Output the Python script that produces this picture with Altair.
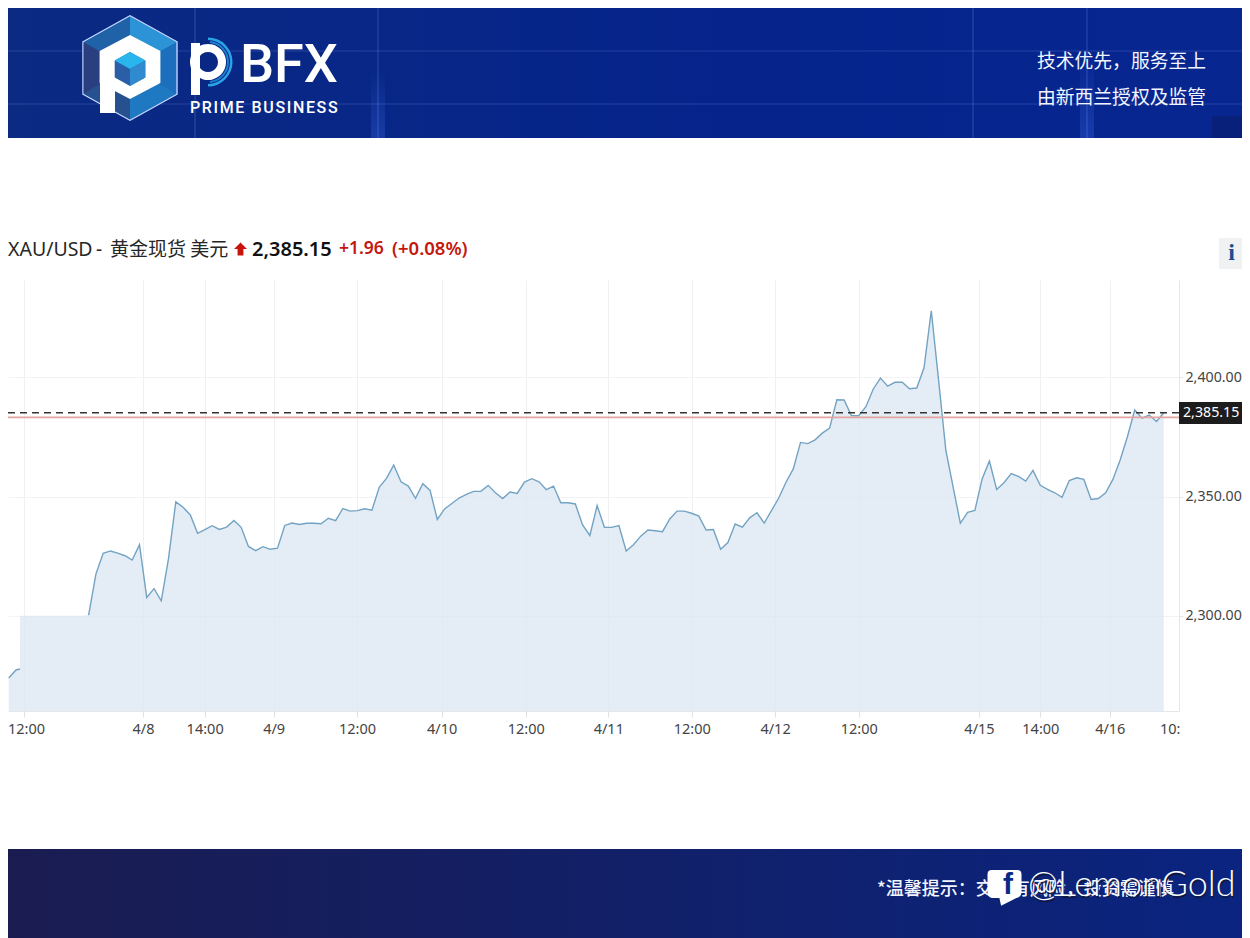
import altair as alt
import pandas as pd

# price per bar (None = line hidden behind the white patch)
price = [
    2273.9, 2277.3, None, None, None, None, None, None, None, None, None,
    2300.3, 2317.5, 2326.2, 2327.2, 2326.3, 2325.2, 2323.4, 2329.8, 2307.7, 2311.4,
    2306.3, 2324.1, 2347.8, 2345.5, 2342.3, 2334.6, 2336.1, 2337.8, 2336.2, 2337.2,
    2340.0, 2337.1, 2329.1, 2327.3, 2329.0, 2327.9, 2328.4, 2337.9, 2338.9, 2338.3,
    2338.8, 2338.8, 2338.6, 2340.9, 2339.9, 2345.0, 2343.9, 2344.1, 2344.9, 2344.3,
    2353.9, 2357.6, 2363.2, 2356.2, 2354.4, 2349.3, 2355.4, 2352.6, 2340.4, 2344.8,
    2347.1, 2349.4, 2350.9, 2352.2, 2352.2, 2354.7, 2351.6, 2349.2, 2351.9, 2351.3,
    2356.1, 2357.5, 2356.2, 2352.9, 2354.4, 2347.4, 2347.4, 2346.9, 2338.1, 2333.7,
    2346.2, 2337.1, 2337.1, 2337.8, 2327.2, 2329.8, 2333.4, 2336.0, 2335.7, 2335.3,
    2340.6, 2343.9, 2343.9, 2343.0, 2341.8, 2336.0, 2336.2, 2327.9, 2330.7, 2338.5,
    2337.2, 2341.1, 2343.2, 2338.9, 2344.1, 2349.4, 2356.0, 2361.6, 2372.7, 2372.2,
    2373.8, 2376.6, 2378.7, 2390.6, 2390.5, 2384.0, 2383.9, 2387.7, 2395.0, 2399.7,
    2396.3, 2397.9, 2397.9, 2395.2, 2395.5, 2404.0, 2427.9, 2398.9, 2369.5, 2354.1,
    2338.8, 2343.4, 2344.2, 2357.4, 2364.9, 2353.0, 2355.8, 2359.6, 2358.5, 2356.5,
    2361.0, 2354.7, 2353.0, 2351.6, 2349.7, 2356.7, 2357.9, 2357.2, 2348.8, 2349.2,
    2351.6, 2357.2, 2365.3, 2375.1, 2386.3, 2382.9, 2384.2, 2381.5, 2385.15,
]
patch_level = 2300.0
cut_bar = 1.55
cut_price = 2277.7
last_price = 2385.15
prev_close = 2383.19

tick_bars = [2.1, 18.48, 26.97, 36.47, 47.94, 59.6, 71.17, 82.54, 94.02, 105.49, 117.01, 133.57, 142.01, 151.57]
tick_labels = ["12:00", "4/8", "14:00", "4/9", "12:00", "4/10", "12:00", "4/11", "12:00", "4/12", "12:00", "4/15", "14:00", "4/16"]
y_ticks = [2300, 2350, 2400]

FONT = "Noto Sans"
CJK = "Noto Sans CJK SC"
PLOT_W = 1171
PLOT_H = 431
HAIR = "\u200a"

# line frame has the gap, area frame has the flat top under the patch
rows = [{"bar": i, "price": p} for i, p in enumerate(price)]
line_df = pd.DataFrame(rows[:2] + [{"bar": cut_bar, "price": cut_price}] + rows[2:])
area_rows = [{"bar": r["bar"], "price": patch_level if r["price"] is None else r["price"]} for r in rows]
area_df = pd.DataFrame(
    area_rows[:2]
    + [{"bar": cut_bar, "price": cut_price}, {"bar": cut_bar + 0.01, "price": patch_level}]
    + area_rows[2:]
)

x_scale = alt.Scale(domain=[-0.1, 161.1], nice=False, zero=False)
y_scale = alt.Scale(domain=[2260.1, 2440.8], nice=False, zero=False)
one = alt.Data(values=[{"a": 0}])


# decoration helpers take picture pixels
def px(x):
    return alt.value(x - 8)


def py(y):
    return alt.value(y - 280)


def text(s, x, y, size, color, font=FONT, weight="normal", align="left", opacity=1):
    return alt.Chart(one).mark_text(
        text=s, fontSize=size, color=color, font=font, fontWeight=weight,
        align=align, baseline="middle", opacity=opacity,
    ).encode(x=px(x), y=py(y))


def box(x0, x1, y0, y1, color, opacity=1):
    return alt.Chart(one).mark_rect(color=color, opacity=opacity).encode(
        x=px(x0), x2=px(x1), y=py(y0), y2=py(y1)
    )


def shape(path, x, y, radius, color):
    return alt.Chart(one).mark_point(
        shape=path, size=(2 * radius) ** 2, filled=True, color=color, opacity=1, strokeWidth=0
    ).encode(x=px(x), y=py(y))


def arc(x, y, r0, r1, t0, t1, color):
    return alt.Chart(one).mark_arc(
        radius=r1, radius2=r0, theta=t0, theta2=t1, color=color
    ).encode(x=px(x), y=py(y))


HEX = "M0,-1L0.9,-0.5L0.9,0.5L0,1L-0.9,0.5L-0.9,-0.5Z"
WIDE_HEX = "M0,-1L0.95,-0.5L0.95,0.5L0,1L-0.95,0.5L-0.95,-0.5Z"
top_fill = alt.Gradient(
    gradient="linear", x1=0, x2=1, y1=0, y2=0,
    stops=[alt.GradientStop(color="#0b2a82", offset=0), alt.GradientStop(color="#05238b", offset=0.6), alt.GradientStop(color="#07268f", offset=1)],
)
foot_fill = alt.Gradient(
    gradient="linear", x1=0, x2=1, y1=0, y2=0,
    stops=[alt.GradientStop(color="#1a1c50", offset=0), alt.GradientStop(color="#0a2480", offset=1)],
)
glow_fill = alt.Gradient(
    gradient="linear", x1=0, x2=0, y1=0, y2=1,
    stops=[alt.GradientStop(color="rgba(60,110,240,0)", offset=0), alt.GradientStop(color="rgba(60,110,240,0.3)", offset=1)],
)

banner = [
    box(0, 1250, 0, 138, top_fill),
    box(1212, 1250, 116, 138, "#0a1a60", 0.45),
    box(1080, 1094, 50, 138, glow_fill),
    box(371, 385, 70, 138, glow_fill),
]
for gx in [195, 378, 973, 1087]:
    banner.append(box(gx - 1, gx + 1, 0, 138, "#8fb0ff", 0.14))
for gy in [50, 103]:
    banner.append(box(0, 1250, gy, gy + 2, "#8fb0ff", 0.1))

logo = [
    shape(HEX, 130, 68, 53, "#c8d8ff"),
    shape(HEX, 130, 68, 51.5, "#1b6fbd"),
    shape("M0,-1L0.9,-0.5L0,0Z", 130, 68, 51.5, "#2b93d6"),
    shape("M-0.9,-0.5L0,-1L0,0Z", 130, 68, 51.5, "#1f62a8"),
    shape("M-0.9,-0.5L-0.9,0.5L0,0Z", 130, 68, 51.5, "#2a3f80"),
    shape("M0.9,0.5L0,1L0,0Z", 130, 68, 51.5, "#1f78c2"),
    shape("M-0.9,0.5L0,1L0,0Z", 130, 68, 51.5, "#27508f"),
    shape(WIDE_HEX, 130, 67, 32, "#ffffff"),
    box(100, 115, 78, 113, "#ffffff"),
    shape(HEX, 130, 69, 17, "#2a5fa8"),
    shape("M0,-1L0.9,-0.5L0,0L-0.9,-0.5Z", 130, 69, 17, "#29b6ec"),
    shape("M0.9,-0.5L0.9,0.5L0,1L0,0Z", 130, 69, 17, "#2f8ad0"),
    arc(208, 62, 22, 24.5, 0, 3.14, "#2aa3e6"),
    arc(208, 62, 19, 21, 0.1, 3.04, "#1c7fd0"),
    arc(208, 62, 10, 18, 0, 6.283, "#ffffff"),
    box(191, 200, 43, 95, "#ffffff"),
    text("BFX", 240, 66, 54, "#ffffff", font="Roboto", weight=500),
    text(HAIR.join("PRIME BUSINESS"), 190, 108, 16, "#ffffff", font="Roboto", weight=500),
    text("技术优先，服务至上", 1037, 61.5, 18.8, "#f2f5ff", font=CJK),
    text("由新西兰授权及监管", 1037, 97.5, 18.8, "#f2f5ff", font=CJK),
]

heading = [
    text("XAU/USD", 8, 250, 19.5, "#262626"),
    text("-", 96, 250, 19, "#262626"),
    text("黄金现货 美元", 110, 250, 19, "#262626", font=CJK),
    shape("M0,-1L1,0L0.45,0L0.45,1L-0.45,1L-0.45,0L-1,0Z", 240.5, 249, 6.5, "#c9140c"),
    text("2,385.15", 252, 250, 20, "#111111", weight=600),
    text("+1.96", 339, 249, 17.5, "#c4170d", weight=600),
    text("(+0.08%)", 392, 249, 18.5, "#c4170d", weight=600),
    box(1219, 1242, 238, 269, "#f0f1f2"),
    text("i", 1231.5, 253, 24, "#1a4f90", font="Liberation Serif", weight="bold", align="center"),
]

# the data layers, axes live on the area
area = alt.Chart(area_df).mark_area(color="#dbe7f1", opacity=0.75).encode(
    x=alt.X(
        "bar:Q", scale=x_scale,
        axis=alt.Axis(
            values=tick_bars, title=None,
            labelExpr=f"{tick_labels}[indexof({tick_bars}, datum.value)]",
            grid=True, gridColor="#eef1f4", domainColor="#e3e6ea", tickColor="#dfe3e7",
            tickSize=6, labelFontSize=14.5, labelFont=FONT, labelColor="#444444",
            labelPadding=5, labelOverlap=False, labelFlush=False,
            labelOffset={"condition": {"test": "datum.value < 5", "value": 2}, "value": 0},
        ),
    ),
    y=alt.Y(
        "price:Q", scale=y_scale, stack=None,
        axis=alt.Axis(
            orient="right", values=y_ticks, title=None, format=",.2f",
            grid=True, gridColor="#f2f3f5", domainColor="#e3e6ea", tickColor="#e3e6ea",
            tickSize=4, labelFontSize=14.2, labelFont=FONT, labelColor="#444444", labelPadding=2,
        ),
    ),
)
line = alt.Chart(line_df).mark_line(color="#73a3c3", strokeWidth=1.4).encode(
    x=alt.X("bar:Q", scale=x_scale), y=alt.Y("price:Q", scale=y_scale)
)
close_rule = alt.Chart(one).mark_rule(color="#e3a5a0", strokeWidth=1.6).encode(
    y=alt.YDatum(prev_close, scale=y_scale, type="quantitative")
)
last_rule = alt.Chart(one).mark_rule(color="#333333", strokeWidth=1.4, strokeDash=[7, 5]).encode(
    y=alt.YDatum(last_price, scale=y_scale, type="quantitative")
)
last_tag = [
    box(1179, 1242, 402, 424, "#1c1c1c"),
    alt.Chart(one).mark_text(
        text="2,385.15", fontSize=14.2, color="#ffffff", font=FONT, align="left", baseline="middle"
    ).encode(x=px(1183), y=alt.YDatum(last_price, scale=y_scale, type="quantitative")),
]
cut_label = text("10:", 1160, 729.5, 14.5, "#444444")

footer = [
    box(0, 1250, 849, 938, foot_fill),
    text("*温馨提示：交易有风险，投资需谨慎", 877, 889.5, 18, "#f2f5ff", font=CJK, weight=500),
    shape("M-1,-0.75Q-1,-1 -0.75,-1L0.75,-1Q1,-1 1,-0.75L1,0.3Q1,0.6 0.7,0.65L-0.2,1.1L-0.3,0.65L-0.75,0.65Q-1,0.6 -1,0.3Z", 1004.5, 887, 17, "#ffffff"),
    text("f", 1003, 885, 30, "#0b2a86", font="Liberation Sans", weight="bold"),
    text("@LemonGold", 1029, 887, 36, "#10183c", font="Lato", weight=300),
    text("@LemonGold", 1028, 885, 36, "#ffffff", font="Lato", weight=300),
]

chart = alt.layer(
    *banner, *logo, *heading, area, line, close_rule, last_rule, *last_tag, cut_label, *footer
).properties(
    width=PLOT_W,
    height=PLOT_H,
    padding={"left": 0, "top": 272, "right": 63, "bottom": 227},
    autosize=alt.AutoSizeParams(type="none"),
    background="#ffffff",
).configure_view(stroke=None)

chart.save("out.html", embed_options={"renderer": "svg", "actions": False})
